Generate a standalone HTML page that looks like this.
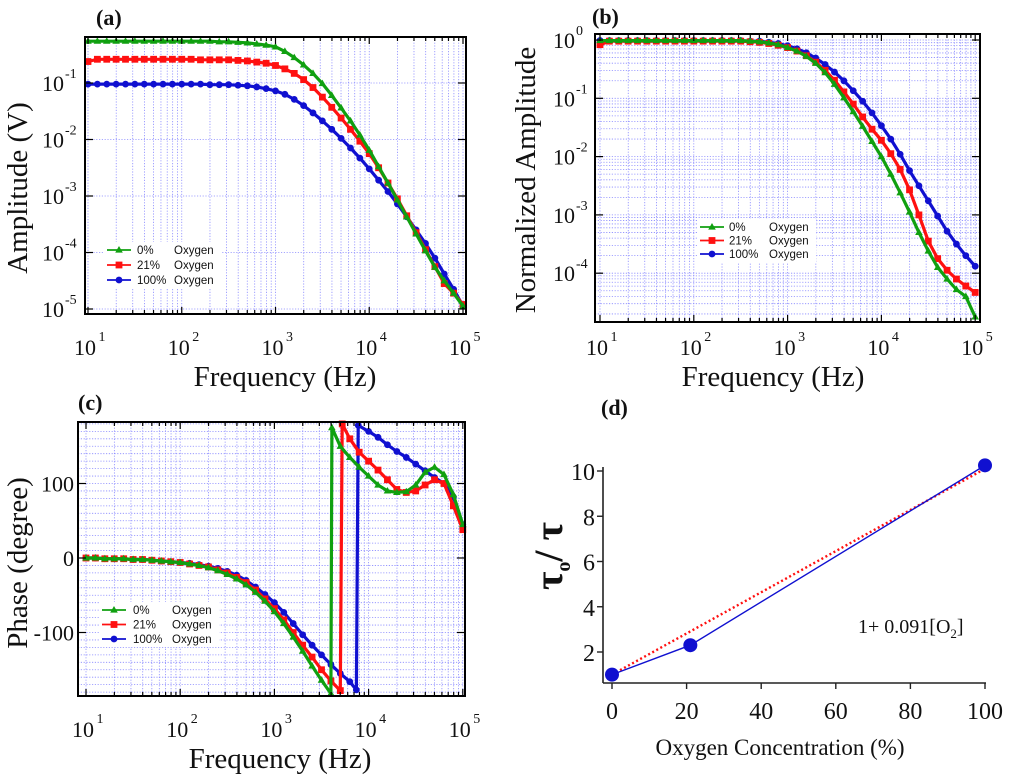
<!DOCTYPE html>
<html><head><meta charset="utf-8">
<style>
html,body{margin:0;padding:0;background:#fff;}
svg{display:block;}
text{font-family:"Liberation Serif",serif;fill:#111;}
.leg{font-family:"Liberation Sans",sans-serif;font-size:11.5px;}
</style></head>
<body>
<svg id="fig" width="1024" height="778" viewBox="0 0 1024 778" xmlns="http://www.w3.org/2000/svg"></svg>
<script>
const NS='http://www.w3.org/2000/svg';
const svg=document.getElementById('fig');
// ---------- DATA ----------
const logFreq=[1.0,1.1,1.2,1.3,1.4,1.5,1.6,1.7,1.8,1.9,2.0,2.1,2.2,2.3,2.4,2.5,2.6,2.7,2.8,2.9,3.0,3.1,3.2,3.3,3.4,3.5,3.6,3.7,3.8,3.9,4.0,4.1,4.2,4.3,4.4,4.5,4.6,4.7,4.8,4.9,5.0];
const ampA0=[-0.26,-0.26,-0.26,-0.26,-0.26,-0.26,-0.26,-0.26,-0.26,-0.26,-0.26,-0.26,-0.26,-0.26,-0.27,-0.27,-0.28,-0.29,-0.31,-0.33,-0.36,-0.44,-0.55,-0.68,-0.83,-1.01,-1.22,-1.44,-1.67,-1.92,-2.19,-2.48,-2.77,-3.07,-3.37,-3.67,-3.97,-4.26,-4.5,-4.72,-4.95];
const ampA21=[-0.62,-0.58,-0.58,-0.58,-0.58,-0.58,-0.58,-0.58,-0.58,-0.58,-0.58,-0.58,-0.59,-0.59,-0.59,-0.59,-0.60,-0.61,-0.63,-0.65,-0.69,-0.75,-0.83,-0.94,-1.08,-1.25,-1.43,-1.62,-1.82,-2.03,-2.25,-2.5,-2.77,-3.05,-3.35,-3.65,-3.95,-4.25,-4.55,-4.72,-4.92];
const ampA100=[-1.02,-1.02,-1.02,-1.02,-1.02,-1.02,-1.02,-1.02,-1.02,-1.02,-1.02,-1.02,-1.02,-1.03,-1.03,-1.03,-1.04,-1.05,-1.07,-1.10,-1.14,-1.2,-1.29,-1.4,-1.53,-1.67,-1.82,-1.98,-2.15,-2.33,-2.52,-2.72,-2.92,-3.14,-3.37,-3.6,-3.84,-4.1,-4.38,-4.65,-4.95];
const ampB0=[-0.01,-0.01,-0.01,-0.01,-0.01,-0.01,-0.01,-0.01,-0.01,-0.01,-0.01,-0.01,-0.01,-0.01,-0.01,-0.01,-0.02,-0.03,-0.05,-0.08,-0.13,-0.19,-0.28,-0.40,-0.56,-0.76,-0.99,-1.23,-1.48,-1.74,-2.0,-2.3,-2.62,-2.95,-3.3,-3.62,-3.9,-4.1,-4.28,-4.4,-4.75];
const ampB21=[-0.08,-0.02,-0.02,-0.02,-0.02,-0.02,-0.02,-0.02,-0.02,-0.02,-0.02,-0.02,-0.02,-0.02,-0.02,-0.02,-0.03,-0.04,-0.06,-0.09,-0.13,-0.19,-0.27,-0.38,-0.52,-0.69,-0.89,-1.1,-1.32,-1.53,-1.72,-1.95,-2.22,-2.57,-3.0,-3.45,-3.75,-3.95,-4.1,-4.22,-4.33];
const ampB100=[-0.01,-0.01,-0.01,-0.01,-0.01,-0.01,-0.01,-0.01,-0.01,-0.01,-0.01,-0.01,-0.01,-0.01,-0.01,-0.01,-0.02,-0.02,-0.04,-0.06,-0.1,-0.15,-0.22,-0.31,-0.42,-0.55,-0.7,-0.87,-1.05,-1.25,-1.47,-1.7,-1.96,-2.24,-2.5,-2.76,-3.02,-3.28,-3.5,-3.7,-3.88];
const phF0=[1.0,1.1,1.2,1.3,1.4,1.5,1.6,1.7,1.8,1.9,2.0,2.1,2.2,2.3,2.4,2.5,2.6,2.7,2.8,2.9,3.0,3.1,3.2,3.3,3.4,3.5,3.6,3.61,3.7,3.8,3.9,4.0,4.1,4.2,4.3,4.4,4.5,4.6,4.7,4.8,4.9,5.0];
const ph0=[0,0,-1,-1,-1,-2,-2,-3,-4,-5,-6,-8,-10,-13,-17,-22,-28,-36,-46,-58,-72,-88,-106,-125,-145,-164,-182,175,150,135,122,110,98,90,88,89,98,115,122,112,85,45];
const phF21=[1.0,1.1,1.2,1.3,1.4,1.5,1.6,1.7,1.8,1.9,2.0,2.1,2.2,2.3,2.4,2.5,2.6,2.7,2.8,2.9,3.0,3.1,3.2,3.3,3.4,3.5,3.6,3.7,3.72,3.8,3.9,4.0,4.1,4.2,4.3,4.4,4.5,4.6,4.7,4.8,4.9,5.0];
const ph21=[0,0,-1,-1,-1,-2,-2,-3,-4,-5,-6,-8,-10,-12,-16,-20,-26,-33,-43,-55,-68,-83,-100,-117,-133,-150,-165,-178,180,160,142,130,118,105,92,88,90,98,105,100,70,38];
const phF100=[1.0,1.1,1.2,1.3,1.4,1.5,1.6,1.7,1.8,1.9,2.0,2.1,2.2,2.3,2.4,2.5,2.6,2.7,2.8,2.9,3.0,3.1,3.2,3.3,3.4,3.5,3.6,3.7,3.8,3.87,3.89,4.0,4.1,4.2,4.3,4.4,4.5,4.6,4.7,4.8,4.9,5.0];
const ph100=[0,0,-1,-1,-1,-2,-2,-3,-4,-5,-6,-7,-9,-11,-14,-18,-23,-30,-39,-49,-60,-73,-88,-103,-117,-130,-143,-155,-166,-177,178,170,162,152,143,135,126,117,108,100,82,45];
const o2Conc=[0,21,100];
const tauRatio=[1.0,2.3,10.25];
const fitIntercept=1, fitSlope=0.091;
const decadeLabels=[1,2,3,4,5];
const dTicksX=[0,20,40,60,80,100];
const dTicksY=[2,4,6,8,10];
// ---------- helpers ----------
function el(tag,attrs,parent){const e=document.createElementNS(NS,tag);for(const k in attrs)e.setAttribute(k,attrs[k]);(parent||svg).appendChild(e);return e;}
function txt(s,x,y,size,parent,anchor,extra){const t=el('text',Object.assign({x:x,y:y,'font-size':size,'text-anchor':anchor||'middle'},extra||{}),parent);t.textContent=s;return t;}
const COLORS={g:'#10a010',r:'#ff1010',b:'#1010d0'};
function marker(g,type,x,y,c){
  let m;
  if(type==='tri') m=el('polygon',{points:`${x},${y-4} ${x-3.8},${y+2.6} ${x+3.8},${y+2.6}`,fill:c},g);
  else if(type==='sq') m=el('rect',{x:x-3.4,y:y-3.4,width:6.8,height:6.8,fill:c},g);
  else m=el('circle',{cx:x,cy:y,r:3.4,fill:c},g);
  return m;
}
function logPanel(cfg){
  const g=el('g',{});
  
  
  const X=v=>cfg.x10+(v-1)*cfg.dec;
  const Y=cfg.Y;
  const grid=el('g',{stroke:'#8a8aff','stroke-width':0.8,'stroke-dasharray':'1.2,1.6',fill:'none'},g);
  
  
  for(let d=1;d<=5;d++)for(let k=1;k<=9;k++){const v=d+Math.log10(k);if(v>5.0001)continue;const xx=X(v);if(xx<cfg.L||xx>cfg.R)continue;el('line',{x1:xx,x2:xx,y1:cfg.T,y2:cfg.B},grid);}
  cfg.yGrid.forEach(v=>{const yy=Y(v);if(yy<cfg.T||yy>cfg.B)return;el('line',{x1:cfg.L,x2:cfg.R,y1:yy,y2:yy},grid);});
  cfg.series.forEach(s=>{
    const sg=el('g',{},g);
    
    
    const pts=s.f.map((f,i)=>X(f).toFixed(1)+','+Y(s.v[i]).toFixed(1)).join(' ');
    el('polyline',{points:pts,fill:'none',stroke:s.c,'stroke-width':cfg.lw||3.2,'stroke-linejoin':'round'},sg);
    s.f.forEach((f,i)=>{const yy=Y(s.v[i]);if(yy<cfg.T-3||yy>cfg.B+3)return;marker(sg,s.m,X(f),yy,s.c);});
  });
  el('rect',{x:cfg.L,y:cfg.T,width:cfg.R-cfg.L,height:cfg.B-cfg.T,fill:'none',stroke:'#000','stroke-width':2},g);
  const tk=el('g',{stroke:'#000','stroke-width':1.2},g);
  for(let d=1;d<=5;d++)for(let k=1;k<=9;k++){const v=d+Math.log10(k);if(v>5.0001)continue;const xx=X(v);if(xx<cfg.L||xx>cfg.R)continue;const len=k===1?7:4;el('line',{x1:xx,x2:xx,y1:cfg.B,y2:cfg.B-len},tk);el('line',{x1:xx,x2:xx,y1:cfg.T,y2:cfg.T+len},tk);}
  cfg.yMajor.forEach(v=>{const yy=Y(v);el('line',{x1:cfg.L,x2:cfg.L+8,y1:yy,y2:yy},tk);el('line',{x1:cfg.R,x2:cfg.R-8,y1:yy,y2:yy},tk);});
  decadeLabels.forEach(d=>{const xx=X(d);const t=txt('10',xx-3,cfg.xLabY,22,g);txt(String(d),xx+14,cfg.xLabY-14,14,g);});
  cfg.yLabels.forEach(l=>{const yy=Y(l.v);if(l.exp!==undefined){const t=txt('10',cfg.yLabX,yy+8,22,g,'end');txt(l.exp,cfg.yLabX+1,yy-5,14,g,'start');}else{const t=txt(l.s,cfg.yLabX,yy+8,22,g,'end');}});
  const xt=txt('Frequency (Hz)',cfg.xTitle[0],cfg.xTitle[1],29,g);
  const yt=txt(cfg.yTitle,0,0,29,g,'middle',{transform:`translate(${cfg.yTitlePos[0]},${cfg.yTitlePos[1]}) rotate(-90)`});
  const pl=txt(cfg.label,cfg.labelPos[0],cfg.labelPos[1],22,g,'start',{'font-weight':'bold'});
  const lg=el('g',{},g);
  
  
  const Lx=cfg.leg[0],Ly=cfg.leg[1],ls=cfg.leg[2];
  el('rect',{x:Lx-3,y:Ly-8,width:cfg.leg[4]-Lx+50,height:ls*2+16,fill:'#fff'},lg);
  const names=[['0%','g','tri'],['21%','r','sq'],['100%','b','circ']];
  names.forEach((n,i)=>{const yy=Ly+i*ls;const e=el('g',{},lg);
    el('line',{x1:Lx,x2:Lx+24,y1:yy,y2:yy,stroke:COLORS[n[1]],'stroke-width':1.8},e);marker(e,n[2],Lx+12,yy,COLORS[n[1]]);
    txt(n[0],cfg.leg[3],yy+4,12.5,e,'start',{class:'leg'});txt('Oxygen',cfg.leg[4],yy+4,12.5,e,'start',{class:'leg'});});
  return g;
}
// Panel A
(function(){
  const Y=v=>83+(-1-v)*56.5;
  const yGrid=[];for(let d=-5;d<=0;d++)yGrid.push(d);
  logPanel({name:'panel-a-amplitude',x10:88,dec:93.75,L:85,R:466,T:37,B:314,Y:Y,yGrid:yGrid,yMajor:[-1,-2,-3,-4,-5],
    series:[{name:'series-100-oxygen',f:logFreq,v:ampA100,c:COLORS.b,m:'circ'},{name:'series-21-oxygen',f:logFreq,v:ampA21,c:COLORS.r,m:'sq'},{name:'series-0-oxygen',f:logFreq,v:ampA0,c:COLORS.g,m:'tri'}],
    xLabY:355,yLabX:64,yLabels:[{v:-1,exp:'-1'},{v:-2,exp:'-2'},{v:-3,exp:'-3'},{v:-4,exp:'-4'},{v:-5,exp:'-5'}],
    xTitle:[285,386],yTitle:'Amplitude (V)',yTitlePos:[27,188],label:'(a)',labelPos:[96,25],leg:[107,250,15,137,174]});
})();
// Panel B
(function(){
  const Y=v=>40+(0-v)*58.3;
  const yGrid=[];for(let d=-5;d<=0;d++)for(let k=1;k<=9;k++)yGrid.push(d+Math.log10(k));
  logPanel({name:'panel-b-normalized-amplitude',x10:600,dec:93.8,L:595,R:980,T:34,B:322,Y:Y,yGrid:yGrid,yMajor:[0,-1,-2,-3,-4],
    series:[{name:'series-100-oxygen',f:logFreq,v:ampB100,c:COLORS.b,m:'circ'},{name:'series-21-oxygen',f:logFreq,v:ampB21,c:COLORS.r,m:'sq'},{name:'series-0-oxygen',f:logFreq,v:ampB0,c:COLORS.g,m:'tri'}],
    xLabY:355,yLabX:575,yLabels:[{v:0,exp:'0'},{v:-1,exp:'-1'},{v:-2,exp:'-2'},{v:-3,exp:'-3'},{v:-4,exp:'-4'}],
    xTitle:[773,386],yTitle:'Normalized Amplitude',yTitlePos:[535,180],label:'(b)',labelPos:[592,24],leg:[700,227,13.5,729,769]});
})();
// Panel C
(function(){
  const Y=v=>558-v*0.745;
  const yGrid=[];for(let v=-180;v<=180;v+=10)yGrid.push(v);
  logPanel({name:'panel-c-phase',x10:86,dec:94.2,L:78,R:465,T:422,B:696,Y:Y,yGrid:yGrid,yMajor:[-100,0,100],
    series:[{name:'series-100-oxygen',f:phF100,v:ph100,c:COLORS.b,m:'circ'},{name:'series-21-oxygen',f:phF21,v:ph21,c:COLORS.r,m:'sq'},{name:'series-0-oxygen',f:phF0,v:ph0,c:COLORS.g,m:'tri'}],
    xLabY:737,yLabX:74,yLabels:[{v:100,s:'100'},{v:0,s:'0'},{v:-100,s:'-100'}],
    xTitle:[280,768],yTitle:'Phase (degree)',yTitlePos:[27,563],label:'(c)',labelPos:[78,410],leg:[102,610,14.5,133,172]});
})();
// Panel D
(function(){
  const g=el('g',{});
  
  
  const X=v=>612+v*3.73;
  const Y=v=>652-(v-2)*22.625;
  el('line',{x1:603,x2:603,y1:467,y2:683,stroke:'#222','stroke-width':1.6},g);
  el('line',{x1:603,x2:986,y1:683,y2:683,stroke:'#222','stroke-width':1.6},g);
  dTicksX.forEach(v=>{el('line',{x1:X(v),x2:X(v),y1:683,y2:689,stroke:'#222','stroke-width':1.4},g);const t=txt(String(v),X(v),719,24,g);});
  dTicksY.forEach(v=>{el('line',{x1:597,x2:603,y1:Y(v),y2:Y(v),stroke:'#222','stroke-width':1.4},g);const t=txt(String(v),595,Y(v)+9,24,g,'end');});
  const fit=el('line',{x1:X(0),y1:Y(fitIntercept),x2:X(100),y2:Y(fitIntercept+fitSlope*100),stroke:'#ff1010','stroke-width':2.4,'stroke-dasharray':'2,2.6'},g);
  
  
  const line=el('polyline',{points:o2Conc.map((c,i)=>X(c)+','+Y(tauRatio[i])).join(' '),fill:'none',stroke:'#1010d0','stroke-width':1.4},g);
  
  
  o2Conc.forEach((c,i)=>{const p=el('circle',{cx:X(c),cy:Y(tauRatio[i]),r:7,fill:'#1010d0'},g);});
  const eq=el('text',{x:858,y:633,'font-size':20,'text-anchor':'start'},g);
  
  
  eq.innerHTML='1+ 0.091[O<tspan font-size="13" dy="5">2</tspan><tspan dy="-5">]</tspan>';
  const xt=txt('Oxygen Concentration (%)',780,755,23,g);
  const yt=el('text',{transform:'translate(562,556) rotate(-90)','font-size':40,'font-weight':'bold','text-anchor':'middle'},g);
  
  
  yt.innerHTML='τ<tspan font-size="20" dy="8">o</tspan><tspan dy="-8">/ τ</tspan>';
  const pl=txt('(d)',601,415,22,g,'start',{'font-weight':'bold'});
})();
</script>
</body></html>
